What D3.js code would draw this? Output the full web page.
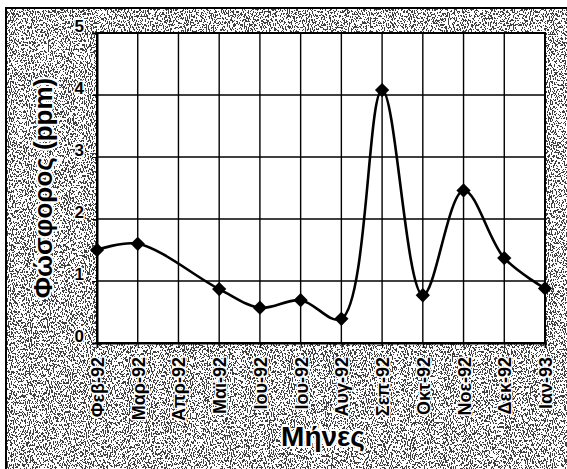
<!DOCTYPE html>
<html>
<head>
<meta charset="utf-8">
<script src="https://cdn.jsdelivr.net/npm/d3@7"></script>
<style>
  html, body { margin: 0; padding: 0; background: #fff; }
  svg { display: block; }
  text { font-family: "Liberation Sans", Arial, sans-serif; font-weight: bold; fill: #000; }
  .halo { paint-order: stroke fill; stroke: #fff; stroke-linejoin: round; }
</style>
</head>
<body>
<script>
// Monthly phosphorus readings (ppm); April has no measurement
const months = ["Φεβ-92", "Μαρ-92", "Απρ-92", "Μαϊ-92", "Ιου-92", "Ιου-92",
                "Αυγ-92", "Σεπ-92", "Οκτ-92", "Νοε-92", "Δεκ-92", "Ιαν-93"];
const phosphorus = [1.5, 1.6, null, 0.87, 0.57, 0.69, 0.39, 4.08, 0.77, 2.46, 1.37, 0.88];
const yTicks = [0, 1, 2, 3, 4, 5];
const yTitle = "Φώσφορος (ppm)";
const xTitle = "Μήνες";

const W = 567, H = 469;
const plot = { left: 97, right: 545, top: 33, bottom: 343 };
const FONT = "'Liberation Sans', Arial, sans-serif";

const svg = d3.select("body").append("svg")
  .attr("width", W).attr("height", H);

// speckled grey backdrop
const defs = svg.append("defs");
const f = defs.append("filter").attr("id", "grain")
  .attr("x", 0).attr("y", 0).attr("width", "100%").attr("height", "100%");
f.append("feTurbulence").attr("type", "fractalNoise")
  .attr("baseFrequency", "0.95 0.45").attr("numOctaves", 3).attr("seed", 7).attr("result", "n");
f.append("feColorMatrix").attr("type", "matrix")
  .attr("values", "0 0 0 0 0  0 0 0 0 0  0 0 0 0 0  -4 0 0 0 2.32").attr("result", "a");
f.append("feComponentTransfer").append("feFuncA")
  .attr("type", "discrete").attr("tableValues", "0 1");

svg.append("rect").attr("x", 0).attr("y", 0).attr("width", W).attr("height", H).attr("fill", "#fff");
svg.append("rect").attr("x", 6).attr("y", 8).attr("width", W).attr("height", H)
  .attr("fill", "#000").attr("filter", "url(#grain)").attr("opacity", 0.75);
svg.append("path")
  .attr("d", `M6,${H} V8 H${W}`)
  .attr("fill", "none").attr("stroke", "#000").attr("stroke-width", 2);

const x = d3.scalePoint().domain(d3.range(months.length))
  .range([plot.left, plot.right]);
const y = d3.scaleLinear().domain([0, 5]).range([plot.bottom, plot.top]);

// plot area
svg.append("rect")
  .attr("x", plot.left).attr("y", plot.top)
  .attr("width", plot.right - plot.left).attr("height", plot.bottom - plot.top)
  .attr("fill", "#fff").attr("stroke", "#000").attr("stroke-width", 2);

// grid
const g = svg.append("g");
g.selectAll("line.h").data(yTicks.slice(1, -1)).join("line")
  .attr("x1", plot.left).attr("x2", plot.right)
  .attr("y1", d => y(d)).attr("y2", d => y(d))
  .attr("stroke", "#000").attr("stroke-width", 1.6);
g.selectAll("line.v").data(d3.range(1, months.length - 1)).join("line")
  .attr("x1", d => x(d)).attr("x2", d => x(d))
  .attr("y1", plot.top).attr("y2", plot.bottom)
  .attr("stroke", "#000").attr("stroke-width", 1.4);

// y axis
const yAxis = svg.append("g").attr("transform", `translate(${plot.left},0)`)
  .call(d3.axisLeft(y).tickValues(yTicks).tickSize(5).tickPadding(8).tickFormat(d3.format("d")));
yAxis.select(".domain").attr("stroke-width", 2);
yAxis.selectAll("text").attr("font-size", 17).attr("font-weight", "bold")
  .attr("font-family", FONT).attr("dy", "-0.1em")
  .attr("class", "halo").attr("stroke-width", 3);

// x axis
const xAxis = svg.append("g").attr("transform", `translate(0,${plot.bottom})`)
  .call(d3.axisBottom(x).tickSize(5).tickFormat(i => months[i]));
xAxis.select(".domain").attr("stroke-width", 2);
xAxis.selectAll("text")
  .attr("font-size", 18).attr("font-weight", "bold")
  .attr("font-family", FONT)
  .attr("class", "halo").attr("stroke-width", 3)
  .attr("transform", "rotate(-90)")
  .attr("text-anchor", "end")
  .attr("x", -14).attr("y", 0).attr("dy", "0.36em");

// line
const pts = phosphorus.map((v, i) => ({ i, v })).filter(d => d.v != null);
const line = d3.line().x(d => x(d.i)).y(d => y(d.v)).curve(d3.curveCatmullRom.alpha(0.5));
svg.append("path").datum(pts).attr("d", line)
  .attr("fill", "none").attr("stroke", "#000").attr("stroke-width", 2.6);

svg.selectAll("path.m").data(pts).join("path")
  .attr("d", d3.symbol(d3.symbolDiamond2, 130))
  .attr("transform", d => `translate(${x(d.i)},${y(d.v)})`)
  .attr("fill", "#000");

// titles
svg.append("text")
  .attr("transform", `translate(52,${(plot.top + plot.bottom) / 2}) rotate(-90)`)
  .attr("text-anchor", "middle").attr("font-size", 26)
  .attr("class", "halo").attr("stroke-width", 4)
  .text(yTitle);
svg.append("text")
  .attr("x", 323).attr("y", 446).attr("text-anchor", "middle")
  .attr("font-size", 28)
  .attr("class", "halo").attr("stroke-width", 4)
  .text(xTitle);
</script>
</body>
</html>
